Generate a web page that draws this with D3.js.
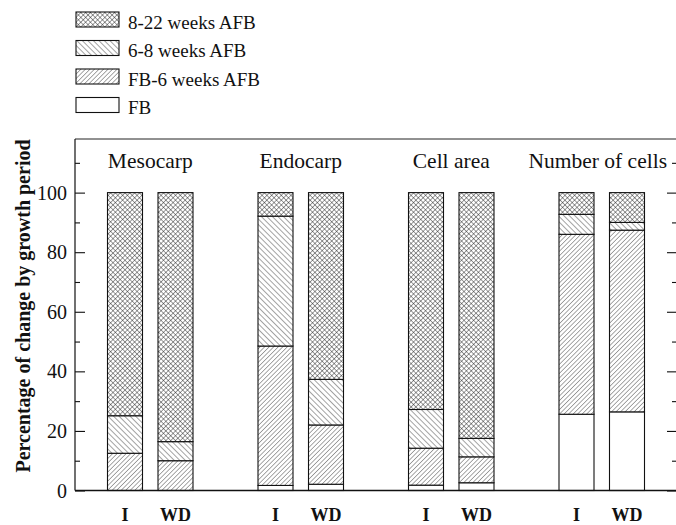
<!DOCTYPE html>
<html>
<head>
<meta charset="utf-8">
<script src="https://cdn.jsdelivr.net/npm/d3@7"></script>
<style>
  html, body { margin: 0; padding: 0; background: #fff; }
  svg { display: block; }
  svg text { font-family: "Liberation Serif", "DejaVu Serif", "Noto Serif", serif; fill: #111; }
</style>
</head>
<body>
<svg id="chart" width="676" height="525"></svg>
<script>
// Tissue groups, treatments and growth periods (stacked bottom to top)
const groups = ["Mesocarp", "Endocarp", "Cell area", "Number of cells"];
const treatments = ["I", "WD"];
const periods = ["FB", "FB-6 weeks AFB", "6-8 weeks AFB", "8-22 weeks AFB"];

// Percentage of change contributed by each period, one array per period,
// ordered Mesocarp I, Mesocarp WD, Endocarp I, Endocarp WD, Cell area I, Cell area WD, Number I, Number WD
const fb        = [0.0, 0.0, 1.7, 2.1, 1.8, 2.6, 25.6, 26.4];
const fbTo6     = [12.5, 10.0, 46.8, 19.9, 12.4, 8.7, 60.4, 61.0];
const weeks6to8 = [12.6, 6.4, 43.6, 15.3, 13.0, 6.2, 6.7, 2.6];
const weeks8to22 = [74.9, 83.6, 7.9, 62.7, 72.8, 82.5, 7.3, 10.0];

const yTicksMajor = [0, 20, 40, 60, 80, 100];
const yTicksMinor = [10, 30, 50, 70, 90, 110];

const seriesValues = [fb, fbTo6, weeks6to8, weeks8to22];

// Flatten into one row per bar for d3.stack
const rows = [];
groups.forEach((g, gi) => {
  treatments.forEach((t, ti) => {
    const idx = gi * treatments.length + ti;
    const row = { group: g, treatment: t };
    periods.forEach((p, pi) => { row[p] = seriesValues[pi][idx]; });
    rows.push(row);
  });
});

const svg = d3.select("#chart");
const serif = "'Liberation Serif', 'DejaVu Serif', 'Noto Serif', serif";
const plotLeft = 75, plotRight = 677, plotTop = 139, plotBottom = 490.5;

const y = d3.scaleLinear().domain([0, 118]).range([plotBottom, plotTop]);
const xGroup = d3.scaleBand().domain(groups).range([plotLeft, plotRight]);
const xInner = d3.scalePoint().domain(treatments)
  .range([xGroup.bandwidth() / 2 - 25.25, xGroup.bandwidth() / 2 + 25.25]);
const barW = 35;

// Hatch patterns
const defs = svg.append("defs");
function hatch(id, spacing, angle, cross, sw) {
  const p = defs.append("pattern")
    .attr("id", id)
    .attr("patternUnits", "userSpaceOnUse")
    .attr("width", spacing).attr("height", spacing)
    .attr("patternTransform", `rotate(${angle})`);
  p.append("rect").attr("width", spacing).attr("height", spacing).attr("fill", "#fff");
  p.append("line").attr("x1", 0).attr("y1", 0).attr("x2", 0).attr("y2", spacing)
    .attr("stroke", "#1a1a1a").attr("stroke-width", sw);
  if (cross) {
    p.append("line").attr("x1", 0).attr("y1", 0).attr("x2", spacing).attr("y2", 0)
      .attr("stroke", "#1a1a1a").attr("stroke-width", sw);
  }
}
hatch("p-asc", 3.2, 45, false, 0.75);
hatch("p-desc", 3.9, -45, false, 0.8);
hatch("p-cross", 3.4, 45, true, 0.85);

const fillFor = {
  "FB": "#fff",
  "FB-6 weeks AFB": "url(#p-asc)",
  "6-8 weeks AFB": "url(#p-desc)",
  "8-22 weeks AFB": "url(#p-cross)"
};

// Stacked bars
const stacked = d3.stack().keys(periods)(rows);
const layer = svg.append("g");
stacked.forEach(s => {
  layer.selectAll(null)
    .data(s)
    .join("rect")
    .attr("x", d => xGroup(d.data.group) + xInner(d.data.treatment) - barW / 2)
    .attr("y", d => y(d[1]))
    .attr("width", barW)
    .attr("height", d => Math.max(0, y(d[0]) - y(d[1])))
    .attr("fill", fillFor[s.key])
    .attr("stroke", "#111")
    .attr("stroke-width", 1.1);
});

// Frame: top and bottom lines
svg.append("line").attr("x1", plotLeft).attr("x2", plotRight).attr("y1", plotTop).attr("y2", plotTop)
  .attr("stroke", "#222").attr("stroke-width", 1);
svg.append("line").attr("x1", plotLeft).attr("x2", plotRight).attr("y1", plotBottom).attr("y2", plotBottom)
  .attr("stroke", "#111").attr("stroke-width", 1.6);

// Left axis, ticks pointing inward
const axisLeftG = svg.append("g").attr("transform", `translate(${plotLeft},0)`);
axisLeftG.call(d3.axisRight(y).tickValues(yTicksMajor).tickSize(10).tickFormat(""))
  .call(g => g.select(".domain").attr("d", `M0,${plotTop}V${plotBottom}`).attr("stroke", "#111").attr("stroke-width", 1.2));
axisLeftG.append("g").call(d3.axisRight(y).tickValues(yTicksMinor).tickSize(5).tickFormat(""))
  .call(g => g.select(".domain").remove());
axisLeftG.selectAll(".tick line").attr("stroke", "#111").attr("stroke-width", 1.1);

// Tick labels
svg.append("g").selectAll("text")
  .data(yTicksMajor)
  .join("text")
  .attr("x", 67)
  .attr("y", d => y(d))
  .attr("dy", "0.35em")
  .attr("text-anchor", "end")
  .attr("font-family", serif)
  .attr("font-size", 20)
  .text(d => d);

// Right axis, ticks pointing inward
const axisRightG = svg.append("g").attr("transform", `translate(${plotRight},0)`);
axisRightG.call(d3.axisLeft(y).tickValues(yTicksMajor).tickSize(10).tickFormat(""))
  .call(g => g.select(".domain").attr("d", `M0,${plotTop}V${plotBottom}`).attr("stroke", "#111"));
axisRightG.append("g").call(d3.axisLeft(y).tickValues(yTicksMinor).tickSize(5).tickFormat(""))
  .call(g => g.select(".domain").remove());
axisRightG.selectAll(".tick line").attr("stroke", "#111").attr("stroke-width", 1.1);

// Y axis title
svg.append("text")
  .attr("transform", `translate(30,306) rotate(-90)`)
  .attr("text-anchor", "middle")
  .attr("font-family", serif)
  .attr("font-size", 20)
  .attr("font-weight", "bold")
  .text("Percentage of change by growth period");

// Group titles, kept inside the frame
const titles = svg.append("g").selectAll("text")
  .data(groups)
  .join("text")
  .attr("y", 168)
  .attr("text-anchor", "middle")
  .attr("font-family", serif)
  .attr("font-size", 21.5)
  .text(d => d);
titles.each(function(d) {
  const w = this.getComputedTextLength();
  const cx = xGroup(d) + xGroup.bandwidth() / 2;
  d3.select(this).attr("x", Math.min(cx, plotRight - 10 - w / 2));
});

// Treatment labels
svg.append("g").selectAll("text")
  .data(rows)
  .join("text")
  .attr("x", d => xGroup(d.group) + xInner(d.treatment))
  .attr("y", 521)
  .attr("text-anchor", "middle")
  .attr("font-family", serif)
  .attr("font-size", 18)
  .attr("font-weight", "bold")
  .text(d => d.treatment);

// Legend (top to bottom: latest period first)
const legendItems = periods.slice().reverse();
const legend = svg.append("g").selectAll("g")
  .data(legendItems)
  .join("g")
  .attr("transform", (d, i) => `translate(76,${12 + i * 28.5})`);
legend.append("rect")
  .attr("width", 43).attr("height", 15)
  .attr("fill", d => fillFor[d])
  .attr("stroke", "#111").attr("stroke-width", 1.1);
legend.append("text")
  .attr("x", 52).attr("y", 16.5)
  .attr("font-family", serif)
  .attr("font-size", 19)
  .text(d => d);
</script>
</body>
</html>
